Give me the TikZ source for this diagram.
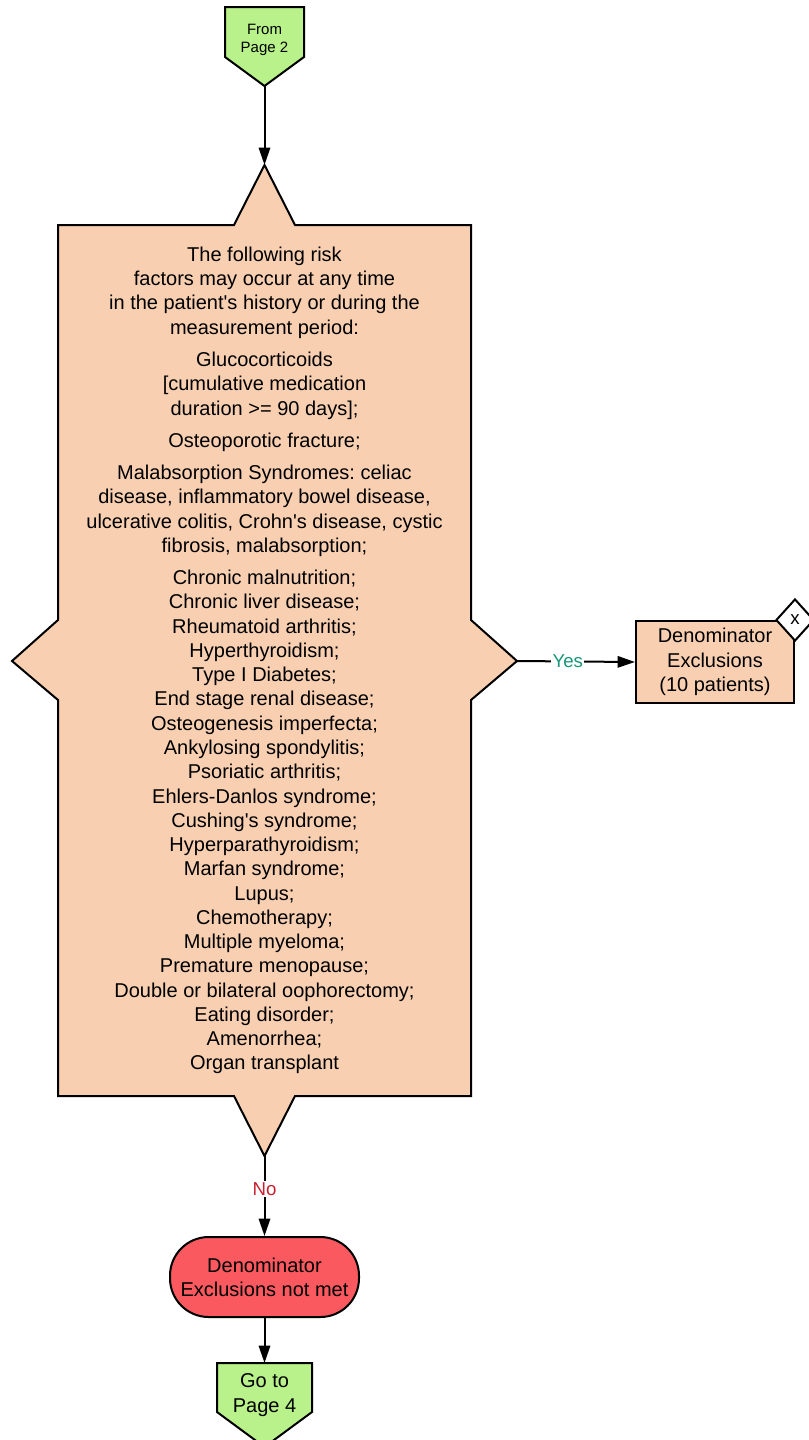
\documentclass[tikz,border=0pt]{standalone}
\usepackage{fontspec}
\setmainfont{Liberation Sans}
\usetikzlibrary{shapes.geometric, positioning, arrows.meta}

\definecolor{peach}{HTML}{F8D0B1}
\definecolor{pagegreen}{HTML}{B9F28B}
\definecolor{stopred}{HTML}{FA5A5F}
\definecolor{yesgreen}{HTML}{17977A}
\definecolor{nored}{HTML}{C9202F}

\frenchspacing

\begin{document}
\begin{tikzpicture}[
        x=0.75pt, y=-0.75pt,
        every node/.style={font=\fontsize{15}{18.2}\selectfont, align=center},
        box/.style={draw, line width=1.5pt, fill=peach},
        offpage/.style={draw, line width=1.5pt, fill=pagegreen},
        terminal/.style={draw, line width=1.5pt, fill=stopred, rounded corners=29pt, minimum width=141.75pt, minimum height=60pt},
        flag/.style={draw, diamond, fill=white, line width=1.5pt, minimum width=28.5pt, minimum height=31.5pt, inner sep=0pt, font=\fontsize{14}{16}\selectfont},
        link/.style={draw, line width=1.5pt, -{Triangle[length=13pt, width=8.5pt]}},
        answer/.style={font=\fontsize{14}{16}\selectfont, fill=white, inner sep=1pt}
        ]
        \useasboundingbox (0,0) rectangle (808,1440);

        % Off-page entry
        \draw[offpage] (225,7) -- (304,7) -- (304,57) -- (264.5,86) coordinate (from2tip) -- (225,57) -- cycle;
        \node[font=\fontsize{11.25}{13.5}\selectfont] (from2) at (264.5,40) {From\\Page 2};

        % Decision
        \draw[box] (58,225) -- (234,225) -- (264.5,165) coordinate (riskT) -- (295,225) -- (471,225)
            -- (471,620) -- (517,661) coordinate (riskR) -- (471,700) -- (471,1096)
            -- (295,1096) -- (264.5,1156) coordinate (riskB) -- (234,1096) -- (58,1096)
            -- (58,700) -- (12,661) coordinate (riskL) -- (58,620) -- cycle;
        \node[inner sep=0pt] (risk) at (264.5,660.5) {
            The following risk\\
            factors may occur at any time\\
            in the patient\textquotesingle s history or during the\\
            measurement period:\\[6pt]
            Glucocorticoids\\
            {[}cumulative medication\\
            duration >= 90 days];\\[6pt]
            Osteoporotic fracture;\\[6pt]
            Malabsorption Syndromes: celiac\\
            disease, inflammatory bowel disease,\\
            ulcerative colitis, Crohn\textquotesingle s disease, cystic\\
            fibrosis, malabsorption;\\[6pt]
            Chronic malnutrition;\\
            Chronic liver disease;\\
            Rheumatoid arthritis;\\
            Hyperthyroidism;\\
            Type I Diabetes;\\
            End stage renal disease;\\
            Osteogenesis imperfecta;\\
            Ankylosing spondylitis;\\
            Psoriatic arthritis;\\
            Ehlers-Danlos syndrome;\\
            Cushing\textquotesingle s syndrome;\\
            Hyperparathyroidism;\\
            Marfan syndrome;\\
            Lupus;\\
            Chemotherapy;\\
            Multiple myeloma;\\
            Premature menopause;\\
            Double or bilateral oophorectomy;\\
            Eating disorder;\\
            Amenorrhea;\\
            Organ transplant};

        % Outcomes
        \node[box, minimum width=118.5pt, minimum height=61.5pt, inner sep=0pt] (excl) at (715,662) {Denominator\\Exclusions\\(10 patients)};
        \node[flag] (excltag) at (excl.north east) {x};
        \node[terminal] (notmet) at (264.5,1277) {Denominator\\Exclusions not met};

        % Off-page exit
        \draw[offpage] (217,1363) coordinate (go4top) -- (312,1363) -- (312,1412) -- (264.5,1447) -- (217,1412) -- cycle;
        \node (go4) at (264.5,1395) {Go to\\Page 4};

        % Links
        \draw[link] (from2tip) -- (riskT);
        \draw[link] (riskR) -- node[answer, text=yesgreen, pos=0.43] {Yes} (excl.west);
        \draw[link] (riskB) -- node[answer, text=nored, pos=0.41] {No} (notmet.north);
        \draw[link] (notmet.south) -- (notmet.south |- go4top);
    \end{tikzpicture}
\end{document}
